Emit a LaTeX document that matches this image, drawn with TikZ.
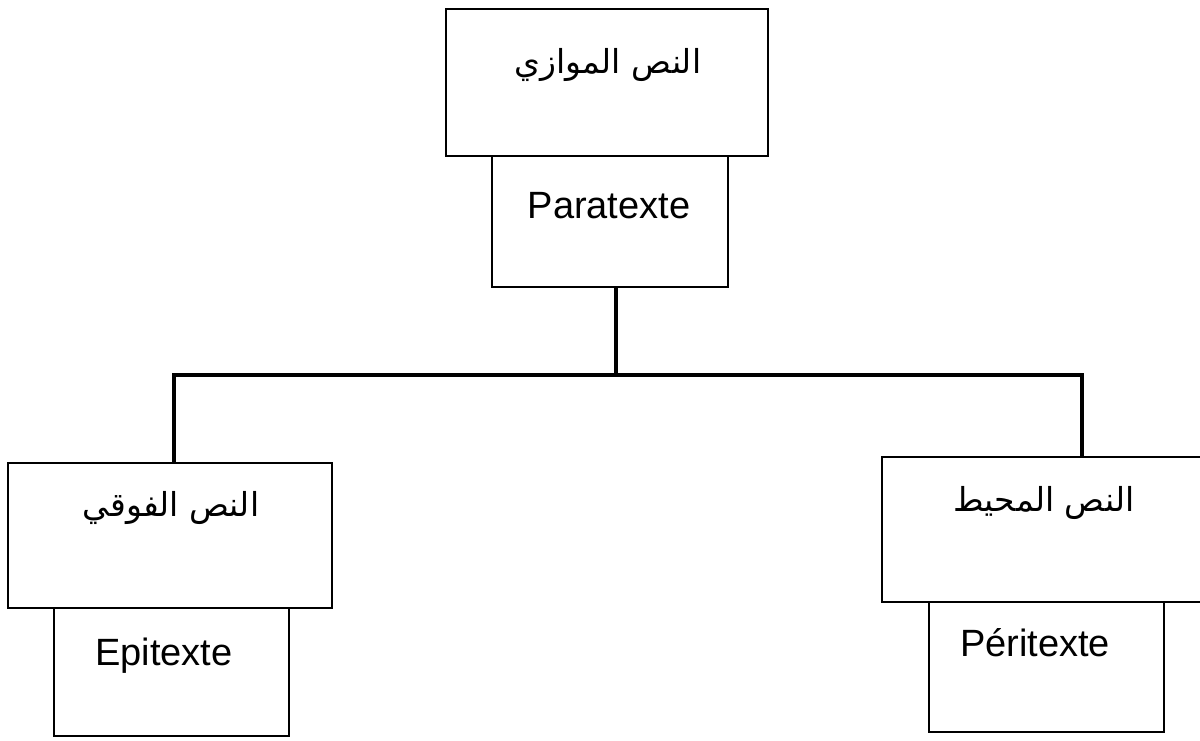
\documentclass[tikz,border=0pt]{standalone}
\usepackage{fontspec}
\setmainfont{Liberation Sans}
\newfontfamily\arabicfont[Script=Arabic]{DejaVu Sans}
\TeXXeTstate=1
\begin{document}
\begin{tikzpicture}[x=1pt,y=-1pt,
  box/.style={draw=black,line width=2pt,inner sep=0pt,outer sep=0pt,fill=white},
  conn/.style={draw=black,line width=4pt},
  lat/.style={font=\fontsize{38}{44}\selectfont,inner sep=0pt},
  arb/.style={font=\arabicfont\fontsize{33}{40}\selectfont,inner sep=0pt}]
\useasboundingbox (0,0) rectangle (1200,740);
\clip (0,0) rectangle (1200,740);
% connectors
\coordinate (j) at (616,375);
\coordinate (jl) at (174,375);
\coordinate (jr) at (1082,375);
% boxes
\node[box,minimum width=322pt,minimum height=147pt] (top) at (607,82.5) {};
\node[box,minimum width=236pt,minimum height=131pt] (para) at (610,221.5) {};
\node[box,minimum width=324pt,minimum height=145pt] (left) at (170,535.5) {};
\node[box,minimum width=235pt,minimum height=128pt] (epi) at (171.5,672) {};
\node[box,minimum width=323pt,minimum height=145pt] (right) at (1043.5,529.5) {};
\node[box,minimum width=235pt,minimum height=130pt] (peri) at (1046.5,667) {};
\draw[conn] (para.south -| j) -- (j);
\draw[conn,line cap=rect] (jl) -- (jr);
\draw[conn] (jl) -- (jl |- left.north);
\draw[conn] (jr) -- (jr |- right.north);
% texts
\node[arb] (ttop) at (608,65) {\beginR النص الموازي\endR};
\node[lat] (tpara) at (609,206) {Paratexte};
\node[arb] (tleft) at (171,508) {\beginR النص الفوقي\endR};
\node[lat] (tepi) at (164,656) {Epitexte};
\node[arb] (tright) at (1044,503) {\beginR النص المحيط\endR};
\node[lat] (tperi) at (1035,643) {Péritexte};
\end{tikzpicture}
\end{document}
